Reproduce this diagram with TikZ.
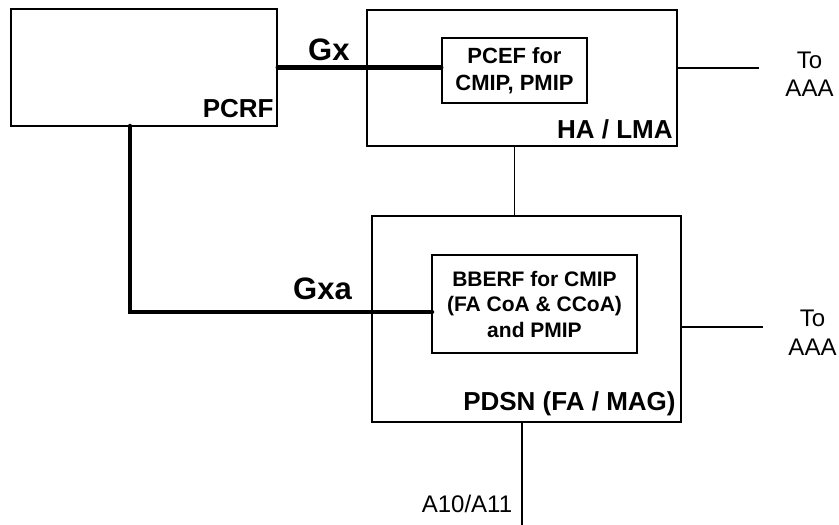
\documentclass[tikz,border=0pt]{standalone}
\usepackage{fontspec}
\setmainfont{Liberation Sans}
\usepackage{tikz}
\usetikzlibrary{calc}
\tikzstyle{BoxNode}=[draw,line width=1.6pt,inner sep=0pt]
\tikzstyle{InnerBox}=[BoxNode,align=center,font=\bfseries\fontsize{21}{25.5}\selectfont]
\tikzstyle{BoxLabel}=[anchor=base east,inner sep=0pt,font=\bfseries\fontsize{26}{30}\selectfont]
\tikzstyle{IfLabel}=[anchor=base west,inner sep=0pt,font=\bfseries\fontsize{31}{36}\selectfont]
\tikzstyle{EndLabel}=[align=center,inner sep=0pt,font=\fontsize{24}{28.5}\selectfont]
\tikzstyle{ThinLink}=[line width=1.6pt]
\tikzstyle{ThickLink}=[line width=4.5pt,line cap=round]

\begin{document}
\begin{tikzpicture}[x=1pt,y=-1pt]
        \useasboundingbox (0,0) rectangle (839,525);
        % network elements
        \node[BoxNode,minimum width=266pt,minimum height=117pt](pcrf)at(144,67.5){};
        \node[BoxNode,minimum width=310pt,minimum height=136pt](ha)at(522,78){};
        \node[BoxNode,minimum width=309pt,minimum height=206pt](pdsn)at(526.5,319){};
        \node[InnerBox,font=\bfseries\fontsize{22}{27}\selectfont,minimum width=145pt,minimum height=65pt](pcef)at(514.5,70.5){PCEF for\\CMIP, PMIP};
        \node[InnerBox,minimum width=205pt,minimum height=98pt](bberf)at(534.5,304){BBERF for CMIP\\(FA CoA \& CCoA)\\and PMIP};
        \node[BoxLabel](pcrflbl)at([xshift=-4pt,yshift=9pt]pcrf.south east){PCRF};
        \node[BoxLabel](halbl)at([xshift=-5pt,yshift=8pt]ha.south east){HA / LMA};
        \node[BoxLabel](pdsnlbl)at([xshift=-6pt,yshift=12pt]pdsn.south east){PDSN (FA / MAG)};
        % free ends
        \coordinate(aaatop)at(759,68);
        \coordinate(aaabot)at(763,327);
        \coordinate(a10)at(522,525);
        \coordinate(gxatop)at(130,126);
        \coordinate(gxaend)at(432,312);
        % thin links
        \draw[ThinLink](ha.east|-aaatop)--(aaatop);
        \draw[ThinLink](pdsn.east|-aaabot)--(aaabot);
        \draw[ThinLink](pcef|-ha.south)--(pcef|-pdsn.north);
        \draw[ThinLink](a10|-pdsn.south)--(a10);
        % Gx and Gxa
        \draw[ThickLink](pcrf.east)--(pcef.west|-pcrf.east);
        \draw[ThickLink](gxatop)|-(gxaend);
        \node[IfLabel](gxlbl)at(308,60){Gx};
        \node[IfLabel](gxalbl)at(293,299){Gxa};
        % end labels
        \node[EndLabel](aaa1)at(809.5,74){To\\AAA};
        \node[EndLabel](aaa2)at(812.5,332.5){To\\AAA};
        \node[EndLabel,anchor=base](a10lbl)at(467,512){A10/A11};
    \end{tikzpicture}
\end{document}
